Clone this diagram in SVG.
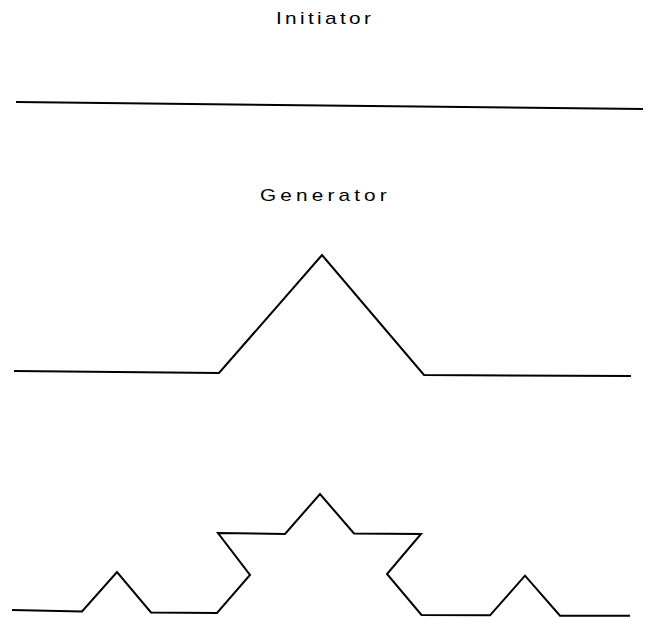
<svg xmlns="http://www.w3.org/2000/svg" width="665" height="618" viewBox="0 0 665 618">
<style>
.lbl{font-family:"Liberation Sans",Arial,sans-serif;font-size:16px;fill:#000}
.ln{fill:none;stroke:#000;stroke-width:2;stroke-linejoin:miter;stroke-linecap:butt}
</style>
<rect width="665" height="618" fill="#fff"/>
<g id="initiator">
<text class="lbl" transform="translate(276,24) scale(1.3,1)" textLength="73" lengthAdjust="spacing">Initiator</text>
<polyline class="ln" points="16,102 643,109"/>
</g>
<g id="generator">
<text class="lbl" transform="translate(260,201) scale(1.3,1)" textLength="97.5" lengthAdjust="spacing">Generator</text>
<polyline class="ln" points="14,371 219,373 322,255 424,375 631,376"/>
</g>
<g id="iteration2">
<polyline class="ln" points="12,610 82,611.5 117,572 151,612.5 217,613 250,575 218,533 285,534 320,494 354,533.5 421,534 387,574 421.5,615 490,615.3 525,575.7 560,615.7 630,615.7"/>
</g>
</svg>
